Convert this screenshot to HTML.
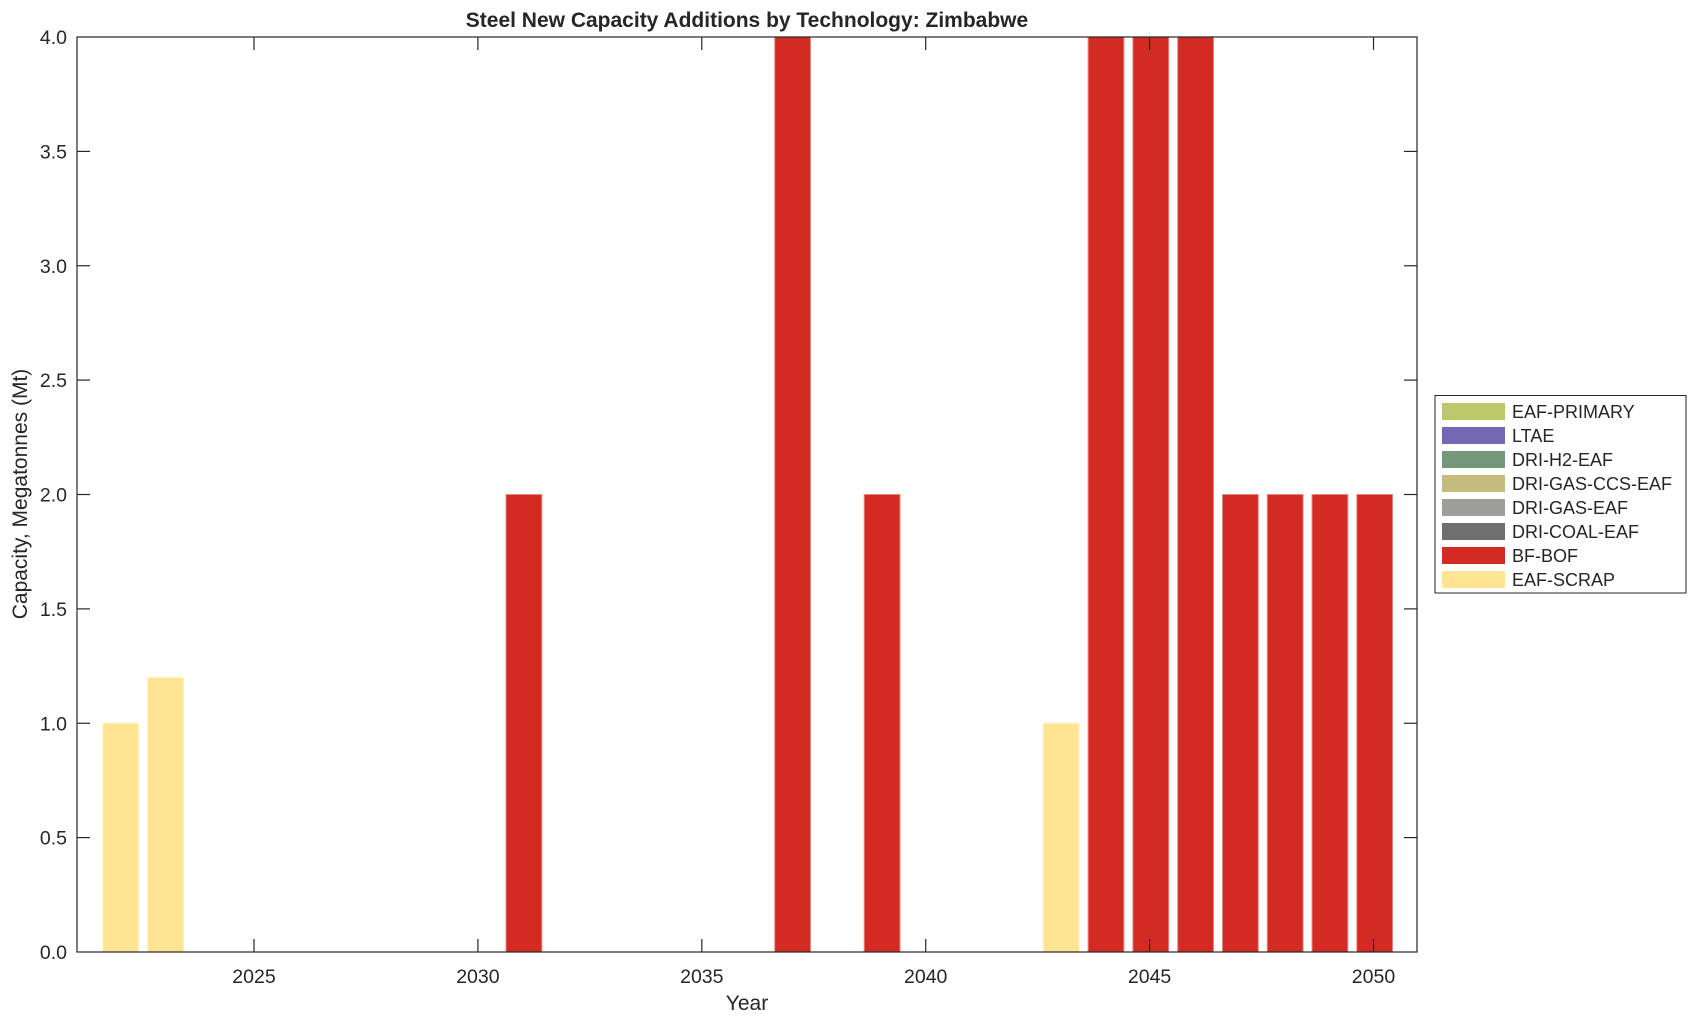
<!DOCTYPE html>
<html><head><meta charset="utf-8"><style>body{margin:0;background:#fff}svg{display:block}text{font-family:"Liberation Sans",Arial,sans-serif;fill:#262626}</style></head>
<body>
<svg width="1696" height="1021" viewBox="0 0 1696 1021" xmlns="http://www.w3.org/2000/svg">
<rect width="1696" height="1021" fill="#fff"/>
<g id="bars" stroke-width="1">
<rect x="102.8" y="723.25" width="35.8" height="228.75" fill="#fee493" stroke="#fff2c4"/>
<rect x="147.6" y="677.5" width="35.8" height="274.5" fill="#fee493" stroke="#fff2c4"/>
<rect x="506.0" y="494.5" width="35.8" height="457.5" fill="#d32b24" stroke="#e68a86"/>
<rect x="774.7" y="37" width="35.8" height="915" fill="#d32b24" stroke="#e68a86"/>
<rect x="864.2" y="494.5" width="35.8" height="457.5" fill="#d32b24" stroke="#e68a86"/>
<rect x="1043.3" y="723.25" width="35.8" height="228.75" fill="#fee493" stroke="#fff2c4"/>
<rect x="1088.1" y="37" width="35.8" height="915" fill="#d32b24" stroke="#e68a86"/>
<rect x="1132.9" y="37" width="35.8" height="915" fill="#d32b24" stroke="#e68a86"/>
<rect x="1177.7" y="37" width="35.8" height="915" fill="#d32b24" stroke="#e68a86"/>
<rect x="1222.5" y="494.5" width="35.8" height="457.5" fill="#d32b24" stroke="#e68a86"/>
<rect x="1267.3" y="494.5" width="35.8" height="457.5" fill="#d32b24" stroke="#e68a86"/>
<rect x="1312.0" y="494.5" width="35.8" height="457.5" fill="#d32b24" stroke="#e68a86"/>
<rect x="1356.8" y="494.5" width="35.8" height="457.5" fill="#d32b24" stroke="#e68a86"/>
</g>
<rect x="77" y="37" width="1340" height="915" fill="none" stroke="#262626" stroke-width="1.2"/>
<g stroke="#262626" stroke-width="1.2">
<line x1="254" y1="952" x2="254" y2="939"/><line x1="254" y1="37" x2="254" y2="50"/>
<line x1="477.9" y1="952" x2="477.9" y2="939"/><line x1="477.9" y1="37" x2="477.9" y2="50"/>
<line x1="701.8" y1="952" x2="701.8" y2="939"/><line x1="701.8" y1="37" x2="701.8" y2="50"/>
<line x1="925.7" y1="952" x2="925.7" y2="939"/><line x1="925.7" y1="37" x2="925.7" y2="50"/>
<line x1="1149.6" y1="952" x2="1149.6" y2="939"/><line x1="1149.6" y1="37" x2="1149.6" y2="50"/>
<line x1="1373.5" y1="952" x2="1373.5" y2="939"/><line x1="1373.5" y1="37" x2="1373.5" y2="50"/>
<line x1="77" y1="837.6" x2="90" y2="837.6"/><line x1="1417" y1="837.6" x2="1404" y2="837.6"/>
<line x1="77" y1="723.25" x2="90" y2="723.25"/><line x1="1417" y1="723.25" x2="1404" y2="723.25"/>
<line x1="77" y1="608.9" x2="90" y2="608.9"/><line x1="1417" y1="608.9" x2="1404" y2="608.9"/>
<line x1="77" y1="494.5" x2="90" y2="494.5"/><line x1="1417" y1="494.5" x2="1404" y2="494.5"/>
<line x1="77" y1="380.1" x2="90" y2="380.1"/><line x1="1417" y1="380.1" x2="1404" y2="380.1"/>
<line x1="77" y1="265.75" x2="90" y2="265.75"/><line x1="1417" y1="265.75" x2="1404" y2="265.75"/>
<line x1="77" y1="151.4" x2="90" y2="151.4"/><line x1="1417" y1="151.4" x2="1404" y2="151.4"/>
</g>
<g font-size="19.5" text-anchor="end">
<text x="67" y="959">0.0</text><text x="67" y="844.6">0.5</text><text x="67" y="730.25">1.0</text>
<text x="67" y="615.9">1.5</text><text x="67" y="501.5">2.0</text><text x="67" y="387.1">2.5</text>
<text x="67" y="272.75">3.0</text><text x="67" y="158.4">3.5</text><text x="67" y="44">4.0</text>
</g>
<g font-size="19.5" text-anchor="middle">
<text x="254" y="983">2025</text><text x="477.9" y="983">2030</text><text x="701.8" y="983">2035</text>
<text x="925.7" y="983">2040</text><text x="1149.6" y="983">2045</text><text x="1373.5" y="983">2050</text>
<text x="747" y="1010" font-size="21">Year</text>
<text x="747" y="27" font-size="21" font-weight="bold" fill="#000">Steel New Capacity Additions by Technology: Zimbabwe</text>
<text transform="translate(27,494) rotate(-90)" font-size="21">Capacity, Megatonnes (Mt)</text>
</g>
<rect x="1435" y="395.5" width="251" height="197.5" fill="#fff" stroke="#262626" stroke-width="1"/>
<g>
<rect x="1442" y="403" width="63" height="17" fill="#bdc66a"/>
<rect x="1442" y="427" width="63" height="17" fill="#7468b5"/>
<rect x="1442" y="451" width="63" height="17" fill="#739879"/>
<rect x="1442" y="475" width="63" height="17" fill="#c4bb7c"/>
<rect x="1442" y="499" width="63" height="17" fill="#9e9e9d"/>
<rect x="1442" y="523" width="63" height="17" fill="#6f6f6f"/>
<rect x="1442" y="547" width="63" height="17" fill="#d32b24"/>
<rect x="1442" y="571" width="63" height="17" fill="#fee493"/>
</g>
<g font-size="18" fill="#000">
<text x="1512" y="418">EAF-PRIMARY</text>
<text x="1512" y="442">LTAE</text>
<text x="1512" y="466">DRI-H2-EAF</text>
<text x="1512" y="490">DRI-GAS-CCS-EAF</text>
<text x="1512" y="514">DRI-GAS-EAF</text>
<text x="1512" y="538">DRI-COAL-EAF</text>
<text x="1512" y="562">BF-BOF</text>
<text x="1512" y="586">EAF-SCRAP</text>
</g>
</svg>
</body></html>
